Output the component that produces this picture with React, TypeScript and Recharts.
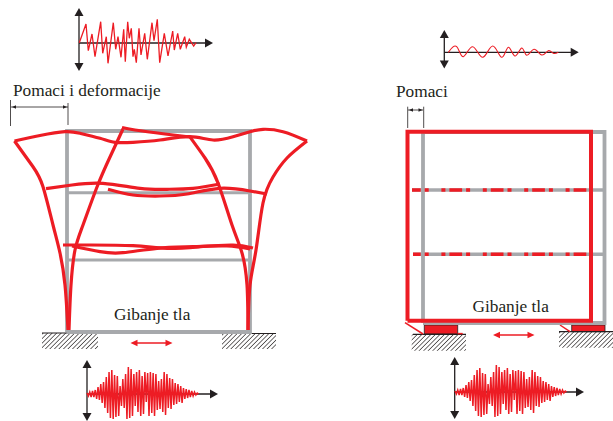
import { ComposedChart, Line, Scatter, ReferenceArea, XAxis, YAxis } from "recharts";

const RED = "#ed1c24";
const GRAY = "#a7a9ac";
const INK = "#231f20";

type Pt = { x: number; y: number };
const pts = (...xy: number[][]): Pt[] => xy.map(([x, y]) => ({ x, y }));

// response of the fixed-base frame
const leftRespX = [79.3, 86, 88.3, 92, 95, 100.7, 102.7, 106.3, 108, 113.3, 115.7, 118, 121, 123.7, 125.3, 127.7, 129.3, 131.3, 133, 134.3, 136.3, 139, 141, 144.7, 147.3, 152, 154, 157.3, 159.7, 164.3, 168, 172.7, 174.3, 177.7, 180.3, 184.7, 186.3, 189.3, 193.7, 196];
const leftRespY = [42.7, 24, 50.7, 34, 56.7, 21.7, 53.3, 36.7, 63.3, 22.7, 49.3, 36.7, 57.3, 29.3, 61.7, 21.7, 38.3, 28.3, 56.7, 49.3, 62.7, 28.3, 55, 33.3, 59.3, 22.7, 40.7, 19.3, 62.7, 33.3, 56, 31, 50, 33.3, 49.3, 36.7, 47.3, 39.3, 46, 42.7];

// response of the isolated frame
const rightRespX = [448.3, 456.7, 463.3, 472.7, 482.7, 492.7, 501.7, 508.3, 515, 521.7, 526.7, 534, 541.7, 548.3, 553.3, 558.3];
const rightRespY = [52.3, 46.7, 56.7, 46.7, 57.3, 46, 57.3, 47.3, 56, 48, 55.3, 49.3, 55, 50.7, 53.3, 52.3];

// ground motion record, same for both frames (signed amplitude per sample)
const groundWave = [
  1, -2, 2, -3, 3, -3, 4, -5, 7, -6, 10, -9, 12, -14, 17, -19, 22, -24, 24, -25, 19, -23, 18, -22, 8, -12, 15, -14, 20, -25,
  27, -24, 25, -22, 20, -12, 22, -18, 24, -22, 18, -20, 22, -8, 21, -22, 22, -19, 21, -22, 20, -16, 13, -15, 15, -18, 22, -21,
  20, -14, 16, -15, 15, -11, 11, -10, 10, -8, 8, -9, 6, -5, 5, -4, 4, -3, 3, -2, 2, -1, 1, 0,
];

// deformed shape of the left frame
const outerLeft = pts([14.5, 141], [33, 166.7], [43, 186.7], [53, 225], [60, 253], [65, 285], [68, 330]);
const outerRight = pts([307, 141], [287, 158], [273, 177], [263, 203], [256, 250], [250, 285], [248, 330]);
const innerLeft = pts([123, 129], [110, 157], [97, 187], [83, 225], [75, 250], [71, 285], [69, 330]);
const innerRight = pts([190, 137], [205, 158], [218, 183], [232, 225], [242, 253], [247, 285], [248, 330]);
const topDeck = pts([14.5, 141], [40, 135.5], [65, 131.7], [80, 133.3], [100, 138.3], [115, 142.3], [133, 142.3], [160, 140], [190, 136.7], [213, 140], [233, 136.7], [250, 131.7], [263, 129.3], [283, 131.7], [307, 141]);
const topStub = pts([122, 127.5], [135, 130], [165, 134], [190, 137]);
const midDeckA = pts([46, 188.7], [72, 185], [103, 183.3], [140, 188.3], [167, 189.3], [193, 188.3], [220, 184]);
const midDeckB = pts([108, 189.3], [133, 195], [160, 196], [187, 194], [220, 188.3], [250, 191], [267, 194]);
const lowDeckA = pts([63, 245], [87, 245], [133, 245.7], [167, 248.3], [200, 246.7], [233, 245], [253, 248]);
const lowDeckB = pts([72, 246], [100, 251.7], [123, 252.7], [157, 248.3], [193, 246.7], [227, 246], [250, 249]);
const deformed = [outerLeft, outerRight, innerLeft, innerRight, topDeck, topStub, midDeckA, midDeckB, lowDeckA, lowDeckB];

// frames
const leftFrame = pts([67, 332], [67, 131], [250, 131], [250, 332], [67, 332]);
const leftFloors = [pts([67, 192.7], [250, 192.7]), pts([67, 260], [250, 260])];
const rightFrame = pts([423, 323], [423, 132], [604.5, 132], [604.5, 323], [423, 323]);
const rightFloors = [pts([412, 190], [603, 190]), pts([413, 254.3], [604, 254.3])];
const shiftedFrame = pts([407.5, 320.8], [407.5, 131.7], [591, 131.7], [591, 320.8], [407.5, 320.8]);
const shiftedFloors = [
  { line: pts([412, 190], [589, 190]), offset: 4 },
  { line: pts([413, 254.3], [589, 254.3]), offset: 5 },
];

// thin black and red guide lines
const axes = [
  pts([79, 12], [79, 66]), pts([79, 43], [208, 43]),
  pts([444.3, 34], [444.3, 64]), pts([444.3, 52.3], [574, 52.3]),
  pts([87, 364], [87, 416]), pts([87, 394], [214, 394]),
  pts([454.7, 361], [454.7, 414]), pts([454.7, 392], [580, 392]),
];
const thinGuides = [
  pts([10.5, 100], [10.5, 126]), pts([68, 103], [68, 125]), pts([11, 107], [68, 107]),
  pts([407.7, 106.7], [407.7, 128]), pts([423.7, 106.7], [423.7, 128]), pts([408, 110], [423, 110]),
];
const groundTops = [pts([42, 333], [98, 333]), pts([222, 333.5], [276, 333.5]), pts([413, 334.3], [466, 334.3]), pts([559, 331.7], [613, 331.7])];
const hatchBlocks = [
  { x1: 42, x2: 98, y1: 333, y2: 349 },
  { x1: 222, x2: 276, y1: 333.5, y2: 349 },
  { x1: 411.7, x2: 466, y1: 334.3, y2: 350.7 },
  { x1: 559, x2: 613, y1: 331.7, y2: 347.7 },
];
const isolators = [
  { x1: 424.3, x2: 457.7, y1: 325, y2: 334 },
  { x1: 571.7, x2: 605, y1: 325, y2: 331.7 },
];
const isolatorLinks = [pts([405, 322.7], [423, 334]), pts([560, 325], [570, 331.7]), pts([457.7, 333.6], [462.7, 333.6])];
const motionArrows = [pts([133, 343], [170, 343]), pts([496, 335], [532, 335])];

// arrow heads
const headsUp = pts([79, 12], [444.3, 34], [87, 364], [454.7, 361]);
const headsDown = pts([79, 67], [444.3, 64.5], [87, 417], [454.7, 415]);
const headsRight = pts([209, 43], [574.7, 52.3], [214, 394], [580, 392]);
const smallHeads = [
  { x: 14, y: 107, d: "l" }, { x: 65, y: 107, d: "r" },
  { x: 411, y: 110, d: "l" }, { x: 420.5, y: 110, d: "r" },
];
const redHeads = [
  { x: 134, y: 343, d: "l" }, { x: 169, y: 343, d: "r" },
  { x: 496.5, y: 335, d: "l" }, { x: 531, y: 335, d: "r" },
];

const labels = [
  { x: 13, y: 96, text: "Pomaci i deformacije" },
  { x: 114, y: 320, text: "Gibanje tla" },
  { x: 396, y: 96.5, text: "Pomaci" },
  { x: 472.5, y: 311.5, text: "Gibanje tla" },
];

const SAMPLE_STEP = 113 / groundWave.length;
const waveAt = (startX: number, zeroY: number): Pt[] =>
  groundWave.map((a, i) => ({ x: startX + i * SAMPLE_STEP, y: zeroY - a }));

const zip = (xs: number[], ys: number[]): Pt[] => xs.map((x, i) => ({ x, y: ys[i] }));

function Tri({ cx, cy, fill, w, h, d }: any) {
  if (d === "u") return <polygon points={`${cx},${cy - h / 2} ${cx - w / 2},${cy + h / 2} ${cx + w / 2},${cy + h / 2}`} fill={fill} />;
  if (d === "d") return <polygon points={`${cx},${cy + h / 2} ${cx - w / 2},${cy - h / 2} ${cx + w / 2},${cy - h / 2}`} fill={fill} />;
  if (d === "l") return <polygon points={`${cx - h / 2},${cy} ${cx + h / 2},${cy - w / 2} ${cx + h / 2},${cy + w / 2}`} fill={fill} />;
  return <polygon points={`${cx + h / 2},${cy} ${cx - h / 2},${cy - w / 2} ${cx - h / 2},${cy + w / 2}`} fill={fill} />;
}

const line = (data: Pt[], key: string, stroke: string, strokeWidth: number, type: any = "linear", extra: any = {}) => (
  <Line key={key} data={data} dataKey="y" type={type} stroke={stroke} strokeWidth={strokeWidth} dot={false} activeDot={false} legendType="none" isAnimationActive={false} {...extra} />
);

const heads = (data: any[], key: string, fill: string, w: number, h: number, d?: string) => (
  <Scatter key={key} data={data} dataKey="y" isAnimationActive={false} shape={(p: any) => <Tri cx={p.cx} cy={p.cy} fill={fill} w={w} h={h} d={d ?? p.payload.d} />} />
);

export default function App() {
  return (
    <div style={{ position: "absolute", left: 0, top: 0, width: 613, height: 421 }}>
      <ComposedChart width={613} height={421} margin={{ top: 0, right: 0, bottom: 0, left: 0 }}>
        <defs>
          <pattern id="hatch" width="3.2" height="3.2" patternUnits="userSpaceOnUse" patternTransform="rotate(45)">
            <line x1="0" y1="0" x2="0" y2="3.2" stroke={INK} strokeWidth="1.3" />
          </pattern>
        </defs>
        <XAxis dataKey="x" type="number" domain={[0, 613]} hide allowDataOverflow />
        <YAxis dataKey="y" type="number" domain={[0, 421]} reversed hide allowDataOverflow />

        {hatchBlocks.map((b, i) => (
          <ReferenceArea key={`h${i}`} {...b} fill="url(#hatch)" fillOpacity={1} stroke="none" />
        ))}
        {groundTops.map((g, i) => line(g, `g${i}`, INK, 1.2))}

        {line(leftFrame, "lf", GRAY, 3.8)}
        {leftFloors.map((f, i) => line(f, `lff${i}`, GRAY, 3))}
        {deformed.map((d, i) => line(d, `d${i}`, RED, 3.2, "natural"))}

        {isolators.map((b, i) => (
          <ReferenceArea key={`iso${i}`} {...b} fill={RED} fillOpacity={1} stroke={INK} strokeWidth={0.8} />
        ))}
        {isolatorLinks.map((l, i) => line(l, `il${i}`, RED, 1.5))}
        {line(rightFrame, "rf", GRAY, 3.8)}
        {rightFloors.map((f, i) => line(f, `rff${i}`, GRAY, 3.4))}
        {line(shiftedFrame, "sf", RED, 4)}
        {shiftedFloors.map((f, i) =>
          line(f.line, `sff${i}`, RED, 3.6, "linear", { strokeDasharray: "12.7 4 4 12.7 4 4", strokeDashoffset: f.offset })
        )}

        {axes.map((a, i) => line(a, `ax${i}`, INK, 1.3))}
        {thinGuides.map((a, i) => line(a, `tg${i}`, INK, 0.8))}
        {motionArrows.map((a, i) => line(a, `ma${i}`, RED, 1.6))}

        {line(zip(leftRespX, leftRespY), "lr", RED, 1.3)}
        {line(zip(rightRespX, rightRespY), "rr", RED, 1.1, "natural")}
        {line(waveAt(87, 394), "w1", RED, 1.5)}
        {line(waveAt(455, 392), "w2", RED, 1.5)}

        {heads(headsUp, "hu", INK, 9, 8, "u")}
        {heads(headsDown, "hd", INK, 9, 8, "d")}
        {heads(headsRight, "hr", INK, 9, 8, "r")}
        {heads(smallHeads, "hs", INK, 3.5, 4)}
        {heads(redHeads, "hrd", RED, 6.5, 7)}

        <Scatter
          data={labels}
          dataKey="y"
          isAnimationActive={false}
          shape={(p: any) => (
            <text x={p.cx} y={p.cy} fontFamily="Liberation Serif" fontSize={17.3} fill={INK}>
              {p.payload.text}
            </text>
          )}
        />
      </ComposedChart>
    </div>
  );
}
